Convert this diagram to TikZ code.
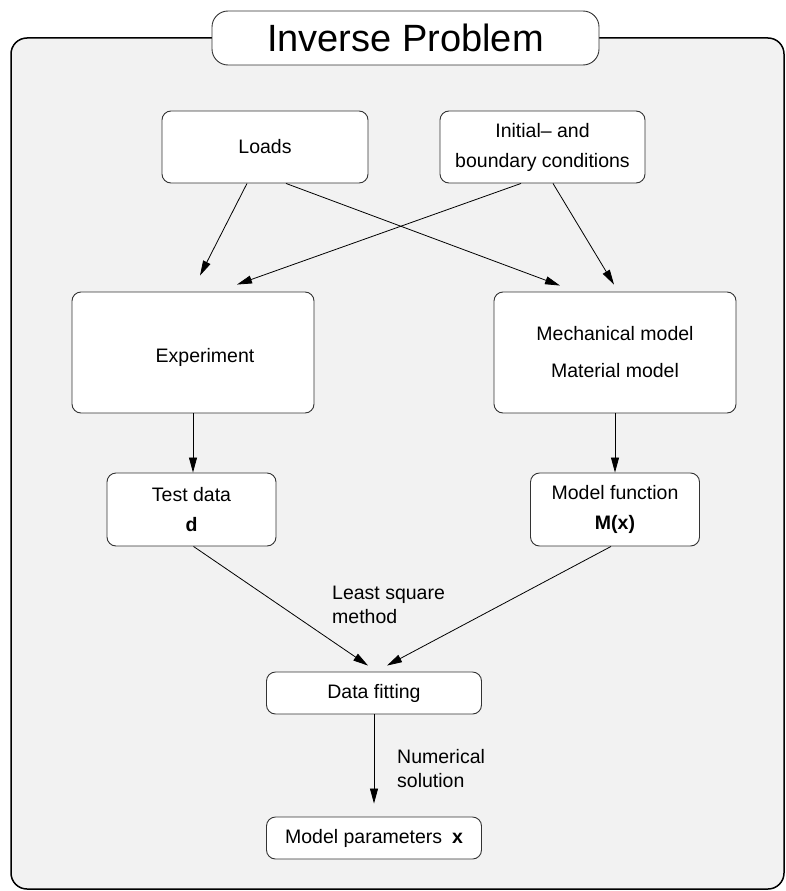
\documentclass[tikz,border=0pt]{standalone}
\usepackage{fontspec}
\setmainfont{Liberation Sans}
\usetikzlibrary{arrows.meta,calc}
\begin{document}
\begin{tikzpicture}[x=1pt,y=-1pt,
  box/.style={draw=black!80, line width=0.9pt, fill=white, rounded corners=9pt, inner sep=0pt, align=center, font=\fontsize{19.5}{30}\selectfont},
  arr/.style={-{Triangle[length=15pt,width=8pt]}, line width=0.8pt},
  lbl/.style={align=left, font=\fontsize{19.5}{23.5}\selectfont, inner sep=0pt, anchor=west},
  txt/.style={inner sep=0pt, font=\fontsize{19.5}{30}\selectfont}
]
\useasboundingbox (0,0) rectangle (786,891);
\draw[line width=1.5pt, fill=black!5, rounded corners=16pt] (11,38) rectangle (784,889);
\node[box, minimum width=387pt, minimum height=54pt, rounded corners=16pt, font=\fontsize{38}{40}\selectfont] (title) at (405.5,38) {Inverse Problem};

\node[box, minimum width=206pt, minimum height=72pt] (loads) at (265,147) {Loads};
\node[box, minimum width=205pt, minimum height=72pt] (init) at (542.5,147) {Initial– and\\boundary conditions};
\node[box, minimum width=242pt, minimum height=121pt] (exp) at (193,352.5) {};
\node[txt] (expt) at (205,357) {Experiment};
\node[box, minimum width=242pt, minimum height=121pt] (mech) at (615,352.5) {Mechanical model\\[7pt]Material model};
\node[box, minimum width=169pt, minimum height=73pt] (test) at (191.5,509.5) {Test data\\\textbf{d}};
\node[box, minimum width=169pt, minimum height=73pt] (model) at (615,509.5) {Model function\\\textbf{M(x)}};
\node[box, minimum width=215pt, minimum height=42pt] (fit) at (374,693) {Data fitting};
\node[box, minimum width=215pt, minimum height=42pt] (par) at (374,838) {Model parameters\enspace\textbf{x}};

\draw[arr] ($(loads.south)+(-18,0)$) -- ($(exp.north)+(7,-16)$);
\draw[arr] ($(loads.south)+(21,0)$) -- ($(mech.north)+(-55,-6)$);
\draw[arr] ($(init.south)+(-21.5,0)$) -- ($(exp.north)+(44,-7)$);
\draw[arr] ($(init.south)+(10.5,0)$) -- ($(mech.north)+(-1,-7)$);
\draw[arr] (exp.south) -- (exp.south |- test.north);
\draw[arr] (mech.south) -- (model.north);
\draw[arr] ($(test.south)+(2,0)$) -- ($(fit.north)+(-6,-6)$);
\draw[arr] ($(model.south)+(-4,0)$) -- ($(fit.north)+(13,-6)$);
\draw[arr] (fit.south) -- ($(par.north)+(0,-13)$);

\node[lbl] (lsq) at (332,605) {Least square\\method};
\node[lbl] (num) at (397,768.5) {Numerical\\solution};
\end{tikzpicture}
\end{document}
